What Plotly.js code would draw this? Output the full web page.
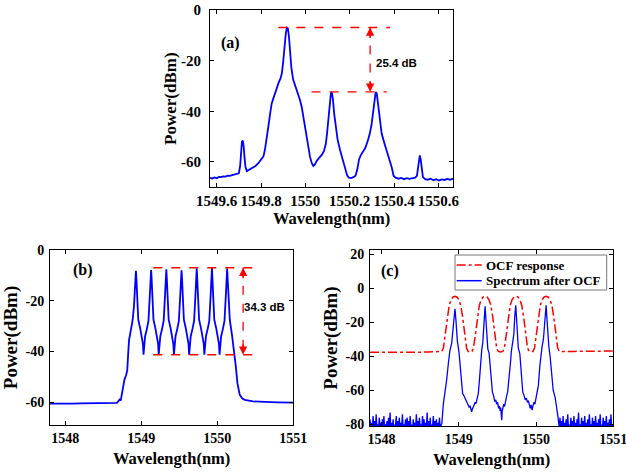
<!DOCTYPE html>
<html>
<head>
<meta charset="utf-8">
<script src="https://cdn.plot.ly/plotly-3.0.1.min.js"></script>
<style>html,body{margin:0;padding:0;background:#fff;}#chart{width:626px;height:474px;}</style>
</head>
<body>
<div id="chart"></div>
<script>
// ---------- Panel (a) : spectrum ----------
const aWavelength = [1549.570,1549.580,1549.590,1549.600,1549.610,1549.620,1549.630,1549.640,1549.650,1549.660,1549.670,1549.680,1549.690,1549.700,1549.706,1549.710,1549.714,1549.718,1549.722,1549.726,1549.730,1549.736,1549.745,1549.755,1549.765,1549.775,1549.788,1549.800,1549.811,1549.818,1549.826,1549.834,1549.841,1549.848,1549.856,1549.864,1549.871,1549.880,1549.888,1549.894,1549.900,1549.906,1549.912,1549.917,1549.921,1549.926,1549.931,1549.937,1549.945,1549.953,1549.963,1549.976,1549.984,1549.991,1549.998,1550.006,1550.014,1550.021,1550.029,1550.036,1550.043,1550.051,1550.062,1550.074,1550.084,1550.092,1550.098,1550.104,1550.110,1550.115,1550.119,1550.124,1550.130,1550.137,1550.145,1550.156,1550.167,1550.179,1550.188,1550.196,1550.206,1550.217,1550.226,1550.234,1550.242,1550.250,1550.260,1550.270,1550.280,1550.290,1550.298,1550.305,1550.312,1550.317,1550.322,1550.328,1550.336,1550.344,1550.356,1550.367,1550.378,1550.389,1550.398,1550.407,1550.420,1550.432,1550.445,1550.457,1550.470,1550.482,1550.495,1550.503,1550.508,1550.512,1550.516,1550.520,1550.525,1550.530,1550.540,1550.552,1550.565,1550.578,1550.590,1550.602,1550.615,1550.628,1550.640,1550.652,1550.667];
const aPower = [-66.3,-66.5,-66.1,-66.4,-65.9,-66.0,-65.7,-65.8,-65.4,-65.5,-65.2,-65.0,-64.8,-64.5,-61.5,-56.0,-52.0,-51.6,-54.0,-58.5,-62.0,-63.6,-63.2,-62.8,-62.2,-61.6,-60.5,-59.3,-57.8,-55.0,-51.0,-45.5,-41.0,-37.0,-34.8,-32.8,-30.3,-28.6,-27.0,-25.0,-20.5,-14.0,-9.0,-7.0,-7.2,-10.5,-16.5,-23.0,-27.5,-29.5,-32.0,-35.6,-38.5,-42.2,-46.5,-51.4,-55.5,-58.0,-60.5,-61.6,-61.0,-59.6,-58.4,-57.2,-55.6,-53.0,-48.5,-42.0,-36.5,-33.0,-32.4,-35.0,-41.0,-46.5,-51.0,-55.2,-58.8,-62.0,-65.2,-66.2,-66.4,-66.0,-65.4,-63.0,-59.0,-57.3,-56.0,-54.5,-52.0,-49.0,-45.5,-40.0,-35.0,-32.4,-33.0,-38.0,-44.0,-48.8,-52.5,-55.4,-58.8,-62.0,-65.5,-66.2,-66.6,-66.3,-66.8,-66.4,-66.7,-66.5,-66.2,-65.5,-61.5,-58.0,-57.4,-59.0,-63.5,-66.0,-66.8,-67.0,-66.6,-67.2,-66.8,-67.3,-66.9,-67.1,-66.7,-67.0,-66.6];
const aXTicks = [1549.6,1549.8,1550,1550.2,1550.4,1550.6];
const aXTickText = ["1549.6","1549.8","1550","1550.2","1550.4","1550.6"];
const abYTicks = [0,-20,-40,-60];
const abYTickText = ["0","-20","-40","-60"];
const aLevels = [-6.9,-32.3];          // main peak, side peaks
const aMarkX = 1550.292;               // double arrow position
const aLineSpan = [[1549.878,1550.382],[1550.028,1550.367]];
const aLabel = "25.4 dB";
const aLabelPos = [1550.412,-21.1];

// ---------- Panel (b) : spectrum ----------
const bWavelength = [1547.80,1547.90,1548.00,1548.10,1548.20,1548.30,1548.40,1548.50,1548.60,1548.68,1548.70,1548.715,1548.73,1548.745,1548.763,1548.78,1548.80,1548.816,1548.828,1548.840,1548.864,1548.887,1548.905,1548.914,1548.922,1548.930,1548.936,1548.948,1548.961,1548.987,1549.009,1549.022,1549.030,1549.038,1549.051,1549.075,1549.095,1549.112,1549.124,1549.130,1549.136,1549.148,1549.161,1549.187,1549.209,1549.222,1549.230,1549.238,1549.251,1549.275,1549.295,1549.312,1549.324,1549.330,1549.336,1549.348,1549.361,1549.387,1549.409,1549.422,1549.430,1549.438,1549.451,1549.475,1549.495,1549.512,1549.524,1549.530,1549.536,1549.548,1549.561,1549.587,1549.609,1549.622,1549.630,1549.638,1549.651,1549.675,1549.695,1549.712,1549.724,1549.730,1549.736,1549.748,1549.761,1549.787,1549.809,1549.822,1549.830,1549.838,1549.851,1549.875,1549.895,1549.912,1549.924,1549.930,1549.936,1549.948,1549.961,1549.987,1550.009,1550.022,1550.030,1550.038,1550.051,1550.075,1550.095,1550.112,1550.124,1550.130,1550.136,1550.148,1550.165,1550.196,1550.222,1550.244,1550.265,1550.296,1550.330,1550.362,1550.470,1550.600,1550.700,1550.800,1550.900,1551.000];
const bPower = [-60.6,-60.7,-60.6,-60.6,-60.5,-60.5,-60.5,-60.4,-60.4,-60.3,-59.6,-59.0,-59.4,-56.5,-53.5,-51.0,-49.5,-47.5,-41.0,-35.4,-31.5,-27.6,-22.0,-16.0,-10.5,-8.2,-11.0,-19.0,-27.5,-31.0,-34.0,-37.0,-41.3,-37.0,-34.0,-31.0,-28.0,-18.4,-11.0,-7.9,-11.0,-19.0,-27.5,-31.0,-34.0,-37.0,-41.3,-37.0,-34.0,-31.0,-28.0,-18.4,-11.0,-7.6,-11.0,-19.0,-27.5,-31.0,-34.0,-37.0,-41.3,-37.0,-34.0,-31.0,-28.0,-18.4,-11.0,-8.0,-11.0,-19.0,-27.5,-31.0,-34.0,-37.0,-41.3,-37.0,-34.0,-31.0,-28.0,-18.4,-11.0,-7.2,-11.0,-19.0,-27.5,-31.0,-34.0,-37.0,-41.3,-37.0,-34.0,-31.0,-28.0,-18.4,-11.0,-7.0,-11.0,-19.0,-27.5,-31.0,-34.0,-37.0,-41.3,-37.0,-34.0,-31.0,-28.0,-18.4,-11.0,-7.2,-11.0,-19.0,-27.6,-34.1,-39.4,-45.9,-52.5,-57.1,-58.6,-59.1,-59.7,-60.0,-60.0,-60.1,-60.2,-60.2];
const bcXTicks = [1548,1549,1550,1551];
const bcXTickText = ["1548","1549","1550","1551"];
const bLevels = [-7.0,-41.3];
const bMarkX = 1550.34;
const bLineSpan = [[1549.158,1550.537],[1549.158,1550.515]];
const bLabel = "34.3 dB";
const bLabelPos = [1550.616,-22.3];

// ---------- Panel (c) : OCF response and filtered spectrum ----------
const cOcfWavelength = [1547.85,1548.00,1548.20,1548.40,1548.60,1548.76,1548.78,1548.80,1548.825,1548.85,1548.875,1548.90,1548.925,1548.95,1548.975,1549.00,1549.025,1549.05,1549.075,1549.10,1549.12,1549.145,1549.17,1549.19,1549.215,1549.24,1549.265,1549.29,1549.315,1549.34,1549.365,1549.39,1549.415,1549.44,1549.465,1549.49,1549.51,1549.54,1549.57,1549.59,1549.615,1549.64,1549.665,1549.69,1549.715,1549.74,1549.765,1549.79,1549.815,1549.84,1549.865,1549.89,1549.91,1549.935,1549.96,1549.98,1550.005,1550.03,1550.055,1550.08,1550.105,1550.13,1550.155,1550.18,1550.205,1550.23,1550.255,1550.28,1550.30,1550.32,1550.50,1550.70,1550.90,1551.00];
const cOcfPower = [-37.5,-37.6,-37.5,-37.5,-37.4,-37.4,-37.0,-35.0,-27.0,-17.0,-10.0,-6.5,-5.0,-4.6,-5.0,-6.5,-10.0,-17.0,-27.0,-35.0,-37.0,-37.4,-37.0,-35.0,-27.0,-17.0,-10.0,-6.5,-5.0,-4.6,-5.0,-6.5,-10.0,-17.0,-27.0,-35.0,-37.0,-37.3,-37.0,-35.0,-27.0,-17.0,-10.0,-6.5,-5.0,-4.6,-5.0,-6.5,-10.0,-17.0,-27.0,-35.0,-37.0,-37.2,-37.0,-35.0,-27.0,-17.0,-10.0,-6.5,-5.0,-4.6,-5.0,-6.5,-10.0,-17.0,-27.0,-35.0,-37.0,-37.1,-37.0,-36.9,-36.8,-36.8];
const cSpecWavelength = [
1547.85,1547.86,1547.87,1547.88,1547.89,1547.90,1547.91,1547.92,1547.93,1547.94,1547.95,1547.96,1547.97,1547.98,1547.99,
1548.00,1548.01,1548.02,1548.03,1548.04,1548.05,1548.06,1548.07,1548.08,1548.09,1548.10,1548.11,1548.12,1548.13,1548.14,1548.15,1548.16,1548.17,1548.18,1548.19,
1548.20,1548.21,1548.22,1548.23,1548.24,1548.25,1548.26,1548.27,1548.28,1548.29,1548.30,1548.31,1548.32,1548.33,1548.34,1548.35,1548.36,1548.37,1548.38,1548.39,
1548.40,1548.41,1548.42,1548.43,1548.44,1548.45,1548.46,1548.47,1548.48,1548.49,1548.50,1548.51,1548.52,1548.53,1548.54,1548.55,1548.56,1548.57,1548.58,1548.59,
1548.60,1548.61,1548.62,1548.63,1548.64,1548.65,1548.66,1548.67,1548.68,1548.69,1548.70,1548.71,1548.72,1548.73,1548.74,1548.75,1548.76,1548.77,
1548.78,1548.80,1548.82,1548.842,1548.864,1548.885,1548.907,1548.928,1548.941,1548.950,1548.963,1548.980,1549.002,1549.023,1549.049,1549.065,1549.080,1549.095,1549.110,1549.125,1549.135,1549.145,1549.155,1549.166,1549.175,1549.188,1549.200,1549.212,1549.222,1549.235,1549.252,1549.265,1549.275,1549.285,1549.297,1549.310,1549.322,1549.332,1549.340,1549.350,1549.362,1549.375,1549.392,1549.412,1549.435,1549.450,1549.465,1549.478,1549.490,1549.502,1549.515,1549.525,1549.535,1549.542,1549.550,1549.556,1549.562,1549.572,1549.582,1549.592,1549.602,1549.615,1549.632,1549.652,1549.668,1549.680,1549.695,1549.712,1549.725,1549.737,1549.745,1549.757,1549.770,1549.790,1549.808,1549.828,1549.845,1549.860,1549.875,1549.888,1549.900,1549.912,1549.925,1549.935,1549.948,1549.960,1549.972,1549.985,1549.998,1550.012,1550.030,1550.048,1550.062,1550.078,1550.095,1550.112,1550.122,1550.130,1550.138,1550.150,1550.165,1550.182,1550.200,1550.222,1550.247,1550.270,1550.285,1550.295,
1550.30,1550.31,1550.32,1550.33,1550.34,1550.35,1550.36,1550.37,1550.38,1550.39,1550.40,1550.41,1550.42,1550.43,1550.44,1550.45,1550.46,1550.47,1550.48,1550.49,
1550.50,1550.51,1550.52,1550.53,1550.54,1550.55,1550.56,1550.57,1550.58,1550.59,1550.60,1550.61,1550.62,1550.63,1550.64,1550.65,1550.66,1550.67,1550.68,1550.69,
1550.70,1550.71,1550.72,1550.73,1550.74,1550.75,1550.76,1550.77,1550.78,1550.79,1550.80,1550.81,1550.82,1550.83,1550.84,1550.85,1550.86,1550.87,1550.88,1550.89,
1550.90,1550.91,1550.92,1550.93,1550.94,1550.95,1550.96,1550.97,1550.98,1550.99,1551.00,1551.01];
const cSpecPower = [
-77,-82,-79,-83,-75,-81,-78,-84,-74,-82,-80,-83,-76,-81,-79,
-84,-77,-82,-75,-83,-80,-82,-78,-84,-76,-81,-73,-83,-79,-82,-77,-84,-80,-81,-75,
-83,-78,-82,-76,-84,-79,-81,-74,-83,-80,-82,-77,-84,-76,-81,-78,-83,-75,-82,-80,
-84,-77,-81,-79,-83,-74,-82,-78,-84,-76,-81,-80,-83,-75,-82,-77,-84,-79,-81,-73,
-83,-78,-82,-76,-84,-80,-81,-75,-83,-78,-82,-77,-84,-79,-81,-76,-83,-80,
-79.5,-67.7,-61.8,-54.0,-44.3,-36.4,-32.5,-22.7,-14.9,-11.9,-18.8,-30.5,-37.4,-50.1,-61.8,-63.0,-64.5,-66.0,-67.7,-68.5,-70.0,-69.0,-71.0,-72.5,-71.0,-69.6,-68.5,-67.0,-67.7,-64.0,-61.8,-55.0,-48.0,-40.0,-36.0,-32.0,-22.0,-14.0,-10.5,-17.5,-28.0,-35.5,-38.0,-50.0,-61.0,-63.0,-66.5,-65.5,-68.0,-67.0,-70.5,-69.0,-72.0,-70.0,-74.0,-77.5,-72.0,-70.5,-68.0,-69.5,-66.0,-64.0,-61.0,-53.0,-44.0,-37.0,-33.0,-27.0,-16.0,-9.9,-16.0,-26.0,-35.0,-38.5,-50.0,-61.0,-63.0,-65.5,-64.5,-67.0,-66.0,-68.5,-70.5,-68.5,-71.5,-69.0,-67.0,-68.0,-65.0,-62.5,-57.0,-46.0,-38.0,-34.0,-30.0,-20.0,-14.0,-9.9,-15.5,-26.0,-34.0,-40.0,-50.0,-60.0,-64.0,-70.0,-76.0,-80.0,
-81,-76,-83,-78,-82,-75,-84,-79,-81,-77,-83,-74,-82,-80,-84,-76,-81,-78,-83,-75,
-82,-79,-84,-77,-81,-73,-83,-80,-82,-76,-84,-78,-81,-75,-83,-79,-82,-77,-84,-74,
-81,-80,-83,-76,-82,-78,-84,-75,-81,-79,-83,-77,-82,-74,-84,-80,-81,-76,-83,-78,
-82,-75,-84,-79,-81,-77,-83,-74,-82,-80,-84,-76];
const cYTicks = [20,0,-20,-40,-60,-80];
const cYTickText = ["20","0","-20","-40","-60","-80"];
const cNames = ["OCF response","Spectrum after OCF"];

const panelTags = ["(a)","(b)","(c)"];
const xTitle = "Wavelength(nm)";
const yTitle = "Power(dBm)";

// ---------- styling ----------
const SERIF = "Liberation Serif";
const SANS = "Liberation Sans";
const BLUE = "#0000ff", RED = "#ff0000";
const W = 626, H = 474;
const px = v => v / W, py = v => 1 - v / H;   // pixel -> paper helpers for layout placement

function axisBase(extra){
  return Object.assign({
    showline:true, linecolor:"#000", linewidth:1, mirror:"ticks",
    ticks:"inside", ticklen:4, tickwidth:1, tickcolor:"#000",
    showgrid:false, zeroline:false, fixedrange:true, ticklabeloverflow:"allow",
    tickfont:{family:SERIF, size:14, color:"#000", weight:"bold"}
  }, extra);
}

const traces = [
  {x:aWavelength, y:aPower, xaxis:"x", yaxis:"y", mode:"lines", line:{color:BLUE, width:1.8}, showlegend:false, hoverinfo:"skip"},
  {x:bWavelength, y:bPower, xaxis:"x2", yaxis:"y2", mode:"lines", line:{color:BLUE, width:1.8}, showlegend:false, hoverinfo:"skip"},
  {x:cOcfWavelength, y:cOcfPower, xaxis:"x3", yaxis:"y3", mode:"lines", name:cNames[0], showlegend:false, line:{color:RED, width:1.5, dash:"dashdot"}, hoverinfo:"skip"},
  {x:cSpecWavelength, y:cSpecPower, xaxis:"x3", yaxis:"y3", mode:"lines", name:cNames[1], showlegend:false, line:{color:BLUE, width:1.3}, hoverinfo:"skip"}
];

function hLine(xr, yr, x0, x1, y){
  return {type:"line", xref:xr, yref:yr, x0:x0, x1:x1, y0:y, y1:y, line:{color:RED, width:1.3, dash:"dash"}};
}
function vLine(xr, yr, x, y0, y1){
  return {type:"line", xref:xr, yref:yr, x0:x, x1:x, y0:y0, y1:y1, line:{color:RED, width:1.3, dash:"dash"}};
}
function head(xr, yr, x, y, ay){
  return {xref:xr, yref:yr, x:x, y:y, ax:0, ay:ay, text:"", showarrow:true, arrowhead:2, arrowsize:1.1, arrowwidth:1.5, arrowcolor:RED, standoff:0};
}

// legend box for panel (c), drawn in the upper right of the panel
const legendBox = {x0:455, x1:606.7, y0:255, y1:290};
const legendRows = [265, 280.7];
const legendSample = [456.7, 481.7];
const legendTextX = 483.5;

const shapes = [
  hLine("x","y",aLineSpan[0][0],aLineSpan[0][1],aLevels[0]),
  hLine("x","y",aLineSpan[1][0],aLineSpan[1][1],aLevels[1]),
  vLine("x","y",aMarkX,aLevels[0],aLevels[1]),
  hLine("x2","y2",bLineSpan[0][0],bLineSpan[0][1],bLevels[0]),
  hLine("x2","y2",bLineSpan[1][0],bLineSpan[1][1],bLevels[1]),
  vLine("x2","y2",bMarkX,bLevels[0],bLevels[1]),
  {type:"rect", xref:"paper", yref:"paper", x0:px(legendBox.x0), x1:px(legendBox.x1), y0:py(legendBox.y1), y1:py(legendBox.y0),
   fillcolor:"#fff", line:{color:"#777", width:1}, layer:"above"},
  {type:"line", xref:"paper", yref:"paper", x0:px(legendSample[0]), x1:px(legendSample[1]), y0:py(legendRows[0]), y1:py(legendRows[0]),
   line:{color:RED, width:1.5, dash:"dashdot"}, layer:"above"},
  {type:"line", xref:"paper", yref:"paper", x0:px(legendSample[0]), x1:px(legendSample[1]), y0:py(legendRows[1]), y1:py(legendRows[1]),
   line:{color:BLUE, width:1.5}, layer:"above"}
];

const tagFont = {family:SERIF, size:16, color:"#000", weight:"bold"};
const legFont = {family:SERIF, size:13, color:"#000", weight:"bold"};
const annotations = [
  head("x","y",aMarkX,aLevels[0],12), head("x","y",aMarkX,aLevels[1],-12),
  head("x2","y2",bMarkX,bLevels[0],12), head("x2","y2",bMarkX,bLevels[1],-12),
  {xref:"x", yref:"y", x:aLabelPos[0], y:aLabelPos[1], text:aLabel, showarrow:false, font:{family:SANS, size:11.5, color:"#000", weight:"bold"}},
  {xref:"x2", yref:"y2", x:bLabelPos[0], y:bLabelPos[1], text:bLabel, showarrow:false, font:{family:SANS, size:11.5, color:"#000", weight:"bold"}},
  {xref:"paper", yref:"paper", x:px(230), y:py(31.7), text:panelTags[0], showarrow:false, font:tagFont},
  {xref:"paper", yref:"paper", x:px(70.5), y:py(270), text:panelTags[1], showarrow:false, font:tagFont},
  {xref:"paper", yref:"paper", x:px(389.5), y:py(270.7), text:panelTags[2], showarrow:false, font:tagFont},
  {xref:"paper", yref:"paper", x:px(legendTextX), y:py(legendRows[0]), xanchor:"left", yanchor:"middle", text:cNames[0], showarrow:false, font:legFont},
  {xref:"paper", yref:"paper", x:px(legendTextX), y:py(legendRows[1]), xanchor:"left", yanchor:"middle", text:cNames[1], showarrow:false, font:legFont}
];

const xTitleFont = {family:SERIF, size:16.5, color:"#000", weight:"bold"};

const layout = {
  width:W, height:H,
  margin:{l:0, r:0, t:0, b:0},
  paper_bgcolor:"#fff", plot_bgcolor:"#fff",
  showlegend:false,
  xaxis: axisBase({domain:[px(210), px(453.3)], anchor:"y", range:[1549.57,1550.667], tickvals:aXTicks, ticktext:aXTickText,
          tickfont:{family:SERIF, size:15, color:"#000", weight:"bold"},
          title:{text:xTitle, font:xTitleFont, standoff:0}}),
  yaxis: axisBase({domain:[py(187.3), py(10)], anchor:"x", range:[-70,0], tickvals:abYTicks, ticktext:abYTickText,
          ticklabelstandoff:5,
          tickfont:{family:SERIF, size:15, color:"#000", weight:"bold"},
          title:{text:yTitle, font:{family:SERIF, size:17, color:"#000", weight:"bold"}, standoff:0}}),
  xaxis2: axisBase({domain:[px(50), px(293.3)], anchor:"y2", range:[1547.8,1551], tickvals:bcXTicks, ticktext:bcXTickText,
          title:{text:xTitle, font:xTitleFont, standoff:7}}),
  yaxis2: axisBase({domain:[py(425), py(250)], anchor:"x2", range:[-69,0], tickvals:abYTicks, ticktext:abYTickText,
          ticklabelstandoff:2,
          title:{text:yTitle, font:{family:SERIF, size:19, color:"#000", weight:"bold"}, standoff:2}}),
  xaxis3: axisBase({domain:[px(370), px(613.3)], anchor:"y3", range:[1547.85,1551], tickvals:bcXTicks, ticktext:bcXTickText,
          title:{text:xTitle, font:xTitleFont, standoff:7}}),
  yaxis3: axisBase({domain:[py(426), py(250)], anchor:"x3", range:[-80.9,22.65], tickvals:cYTicks, ticktext:cYTickText,
          ticklabelstandoff:2,
          title:{text:yTitle, font:{family:SERIF, size:19, color:"#000", weight:"bold"}, standoff:2}}),
  shapes:shapes,
  annotations:annotations
};

Plotly.newPlot("chart", traces, layout, {displayModeBar:false, staticPlot:true});
</script>
</body>
</html>
